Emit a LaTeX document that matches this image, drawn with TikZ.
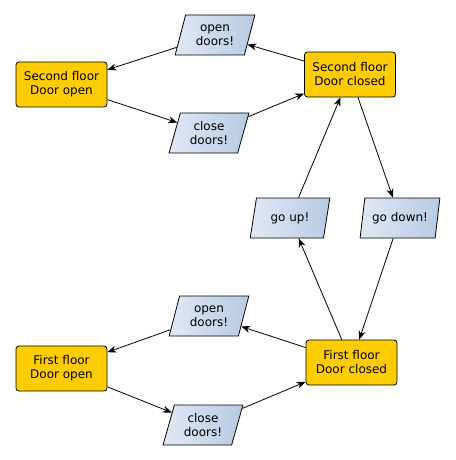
\documentclass[tikz,border=0pt]{standalone}
\usepackage{fontspec}
\setmainfont{DejaVu Sans}
\usetikzlibrary{shapes.geometric,arrows.meta}
\begin{document}
\begin{tikzpicture}[x=1pt,y=-1pt,
  state/.style={draw=black,line width=0.8pt,fill={rgb,255:red,255;green,204;blue,0},rounded corners=3pt,
    minimum width=91pt,minimum height=45pt,inner sep=0pt,align=center,font=\fontsize{12}{14}\selectfont},
  act/.style={draw=black,line width=0.8pt,trapezium,trapezium left angle=72,trapezium right angle=108,
    trapezium stretches=true,left color={rgb,255:red,225;green,232;blue,244},right color={rgb,255:red,183;green,202;blue,227},
    minimum width=80pt,minimum height=40pt,inner sep=0pt,align=center,font=\fontsize{12}{14}\selectfont},
  arr/.style={-{Stealth[length=9pt,width=7pt]},line width=0.8pt}]
\useasboundingbox (0,0) rectangle (455,460);
\node[state] (o2) at (61.5,84.5) {Second floor\\Door open};
\node[state] (c2) at (350,74.5) {Second floor\\Door closed};
\node[act] (od2) at (215,35) {open\\doors!};
\node[act] (cd2) at (209,133) {close\\doors!};
\node[act] (up) at (290,218) {go up!};
\node[act] (down) at (400,218) {go down!};
\node[state] (c1) at (351.5,362.5) {First floor\\Door closed};
\node[state] (o1) at (61.5,368.5) {First floor\\Door open};
\node[act] (od1) at (209,316) {open\\doors!};
\node[act] (cd1) at (203,425) {close\\doors!};
\draw[arr] (c2) -- (od2);
\draw[arr] (od2) -- (o2);
\draw[arr] (o2) -- (cd2);
\draw[arr] (cd2) -- (c2);
\draw[arr] (c1) -- (up);
\draw[arr] (up) -- (c2);
\draw[arr] (c2) -- (down);
\draw[arr] (down) -- (c1);
\draw[arr] (c1) -- (od1);
\draw[arr] (od1) -- (o1);
\draw[arr] (o1) -- (cd1);
\draw[arr] (cd1) -- (c1);
\end{tikzpicture}
\end{document}
